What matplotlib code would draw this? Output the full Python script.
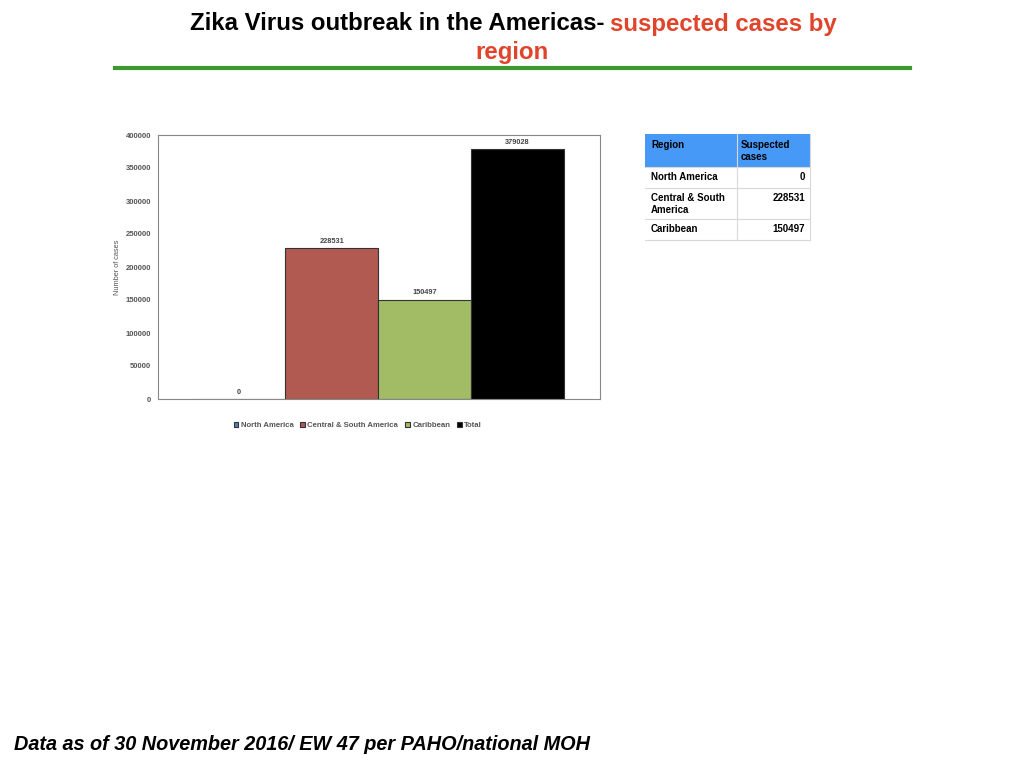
import matplotlib.pyplot as plt
from matplotlib.patches import Rectangle

# data
series = ['North America', 'Central & South America', 'Caribbean', 'Total']
cases = [0, 228531, 150497, 379028]
bar_colors = ['#4F81BD', '#B05A52', '#A1BC65', '#000000']
yticks = [0, 50000, 100000, 150000, 200000, 250000, 300000, 350000, 400000]

table_regions = ['North America', 'Central & South\nAmerica', 'Caribbean']
table_cases = [0, 228531, 150497]

plt.rcParams['font.family'] = ['Liberation Sans', 'DejaVu Sans']

fig = plt.figure(figsize=(10.24, 7.68), dpi=100)

# title, black part + red part
narrow = ['Liberation Sans Narrow', 'Liberation Sans']
fig.text(604/1024, 1-24/768, 'Zika Virus outbreak in the Americas-', ha='right', va='center',
         fontsize=17.3, fontweight='bold', family=narrow, color='black')
fig.text(610/1024, 1-24/768, 'suspected cases by', ha='left', va='center',
         fontsize=17.3, fontweight='bold', family=narrow, color='#E0442B')
fig.text(512/1024, 1-53/768, 'region', ha='center', va='center',
         fontsize=17.3, fontweight='bold', family=narrow, color='#E0442B')
fig.add_artist(plt.Line2D([115/1024, 910/1024], [1-68/768, 1-68/768], color='#3C9A2E', lw=3))

# bar chart
ax = fig.add_axes([158/1024, 1-399/768, 442/1024, 264/768])
x = list(range(len(series)))
for i in x:
    ax.bar(i, cases[i], width=1.0, color=bar_colors[i], edgecolor='#333333', lw=0.8,
           label=series[i])
    ax.text(i, cases[i] + 5000, str(cases[i]), ha='center', va='bottom',
            fontsize=5.3, fontweight='bold', color='#444444')
ax.set_xlim(-0.87, 3.89)
ax.set_ylim(0, 400000)
ax.set_yticks(yticks)
ax.set_yticklabels([str(t) for t in yticks], fontsize=5.5, fontweight='bold', color='#555555')
ax.set_xticks([])
ax.tick_params(axis='y', length=0, pad=5)
for s in ax.spines.values():
    s.set_color('#888888')
    s.set_linewidth(0.8)
ax.set_ylabel('Number of cases', fontsize=5.3, color='#555555', labelpad=3)
ax.legend(loc='upper center', bbox_to_anchor=(0.452, -0.06), ncol=4, frameon=False,
          handlelength=0.6, handleheight=0.6, handletextpad=0.3,
          columnspacing=0.9, labelcolor='#555555', prop={'weight': 'bold', 'size': 5.6})

# table
tax = fig.add_axes([640/1024, 1-245/768, 175/1024, 115/768])
tax.set_xlim(640, 815)
tax.set_ylim(245, 130)
tax.axis('off')
col_x = [645, 737, 810]
row_y = [134, 167, 188, 219, 240]
tax.add_patch(Rectangle((col_x[0], row_y[0]), col_x[2]-col_x[0], row_y[1]-row_y[0],
                        facecolor='#4799F7', edgecolor='none'))
for yy in row_y[1:]:
    tax.plot([col_x[0], col_x[2]], [yy, yy], color='#D8D8D8', lw=0.8)
for xx in col_x[1:]:
    tax.plot([xx, xx], [row_y[0], row_y[-1]], color='#D8D8D8', lw=0.8)
tax.text(col_x[0]+6, row_y[0]+6, 'Region', ha='left', va='top', fontsize=7, fontweight='bold')
tax.text(col_x[1]+4, row_y[0]+6, 'Suspected\ncases', ha='left', va='top', fontsize=7,
         fontweight='bold', linespacing=1.25)
for i in range(len(table_regions)):
    tax.text(col_x[0]+6, row_y[i+1]+5, table_regions[i], ha='left', va='top', fontsize=7,
             fontweight='bold', linespacing=1.25)
    tax.text(col_x[2]-5, row_y[i+1]+5, str(table_cases[i]), ha='right', va='top', fontsize=7,
             fontweight='bold')

# footer
fig.text(14/1024, 1-745/768, 'Data as of 30 November 2016/ EW 47 per PAHO/national MOH',
         ha='left', va='center', fontsize=14.3, fontweight='bold', style='italic')

fig.savefig('out.png', dpi=100)
